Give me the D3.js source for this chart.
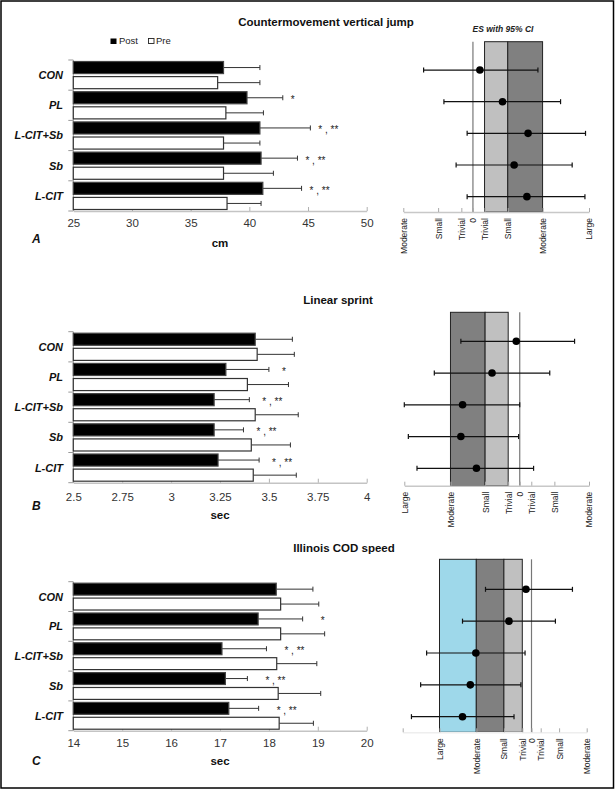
<!DOCTYPE html>
<html>
<head>
<meta charset="utf-8">
<script src="https://cdn.jsdelivr.net/npm/d3@7"></script>
<style>
  body { margin: 0; background: #fff; }
  text { font-family: "Liberation Sans", Arial, sans-serif; }
</style>
</head>
<body>
<div id="figure"></div>
<script>
// groups (same order in every panel)
var groups = ["CON", "PL", "L-CIT+Sb", "Sb", "L-CIT"];
var sigMarks = ["", "*", "* , **", "* , **", "* , **"];

// countermovement vertical jump (cm)
var cmjPost = [37.8, 39.8, 40.9, 41.0, 41.15];
var cmjPostSd = [3.1, 3.05, 4.3, 3.1, 3.3];
var cmjPre = [37.3, 38.0, 37.8, 37.8, 38.1];
var cmjPreSd = [3.6, 3.2, 3.1, 4.25, 2.9];
var cmjTicks = [25, 30, 35, 40, 45, 50];
var cmjEs = [0.12, 0.51, 0.95, 0.71, 0.93];
var cmjEsLo = [-0.85, -0.50, -0.10, -0.29, -0.10];
var cmjEsHi = [1.12, 1.51, 1.94, 1.71, 1.93];
var cmjEsTicks = [-1.2, -0.6, -0.2, 0, 0.2, 0.6, 1.2, 2.0];
var cmjEsLabels = ["Moderate", "Small", "Trivial", "0", "Trivial", "Small", "Moderate", "Large"];
var cmjEsBands = [0.2, 0.6, 1.2];

// linear sprint (sec)
var sprintPost = [3.43, 3.28, 3.22, 3.22, 3.24];
var sprintPostSd = [0.19, 0.22, 0.18, 0.15, 0.21];
var sprintPre = [3.44, 3.39, 3.43, 3.41, 3.42];
var sprintPreSd = [0.19, 0.21, 0.22, 0.20, 0.22];
var sprintTicks = [2.5, 2.75, 3, 3.25, 3.5, 3.75, 4];
var sprintEs = [-0.06, -0.48, -0.99, -1.02, -0.75];
var sprintEsLo = [-1.02, -1.48, -2.0, -1.93, -1.78];
var sprintEsHi = [0.95, 0.52, 0.0, -0.02, 0.24];
var sprintEsTicks = [-2.0, -1.2, -0.6, -0.2, 0, 0.2, 0.6, 1.2];
var sprintEsLabels = ["Large", "Moderate", "Small", "Trivial", "0", "Trivial", "Small", "Moderate"];
var sprintEsBands = [-1.2, -0.6, -0.2];

// illinois change-of-direction speed (sec)
var codPost = [18.15, 17.78, 17.04, 17.11, 17.18];
var codPostSd = [0.75, 0.91, 0.91, 0.45, 0.61];
var codPre = [18.24, 18.24, 18.16, 18.19, 18.21];
var codPreSd = [0.78, 0.90, 0.82, 0.87, 0.70];
var codTicks = [14, 15, 16, 17, 18, 19, 20];
var codEs = [-0.12, -0.49, -1.21, -1.33, -1.5];
var codEsLo = [-1.0, -1.5, -2.28, -2.41, -2.61];
var codEsHi = [0.89, 0.52, -0.14, -0.23, -0.38];
var codEsTicks = [-2.8, -2.0, -1.2, -0.6, -0.2, 0, 0.2, 0.6, 1.2];
var codEsLabels = ["", "Large", "Moderate", "Small", "Trivial", "0", "Trivial", "Small", "Moderate"];
var codEsBands = [-2.0, -1.2, -0.6, -0.2];

var svgWidth = 615;
var svgHeight = 791;

var svg = d3.select("#figure")
  .append("svg")
  .attr("width", svgWidth)
  .attr("height", svgHeight);

// outer frame
svg.append("rect")
  .attr("x", 1)
  .attr("y", 1)
  .attr("width", 612.5)
  .attr("height", 787)
  .attr("fill", "none")
  .attr("stroke", "#000")
  .attr("stroke-width", 1.5);

var barLeft = 73.3;
var barRight = 366.7;
var lightGrey = "#c0c0c0";
var darkGrey = "#808080";
var lightBlue = "#9ed8ea";

var panels = [
  {
    letter: "A", title: "Countermovement vertical jump", titleX: 326, titleY: 26, unit: "cm",
    post: cmjPost, postSd: cmjPostSd, pre: cmjPre, preSd: cmjPreSd, ticks: cmjTicks,
    es: cmjEs, esLo: cmjEsLo, esHi: cmjEsHi, esTicks: cmjEsTicks, esLabels: cmjEsLabels,
    esBands: cmjEsBands, bandColors: [lightGrey, darkGrey],
    top: 60, bottom: 211, tickY: 227, unitY: 247, letterY: 243, starOffset: 8,
    esTop: 41.7, esAxis: 212, esRows: [54.2, 212.5], esX: [403.3, 589], axisColor: "#c8c8c8"
  },
  {
    letter: "B", title: "Linear sprint", titleX: 338, titleY: 303.5, unit: "sec",
    post: sprintPost, postSd: sprintPostSd, pre: sprintPre, preSd: sprintPreSd, ticks: sprintTicks,
    es: sprintEs, esLo: sprintEsLo, esHi: sprintEsHi, esTicks: sprintEsTicks, esLabels: sprintEsLabels,
    esBands: sprintEsBands, bandColors: [darkGrey, lightGrey],
    top: 331.7, bottom: 482.7, tickY: 500.7, unitY: 518.5, letterY: 510, starOffset: 13,
    esTop: 312.3, esAxis: 485.7, esRows: [325.4, 484.2], esX: [404.3, 589], axisColor: "#c8c8c8"
  },
  {
    letter: "C", title: "Illinois COD speed", titleX: 344, titleY: 552, unit: "sec",
    post: codPost, postSd: codPostSd, pre: codPre, preSd: codPreSd, ticks: codTicks,
    es: codEs, esLo: codEsLo, esHi: codEsHi, esTicks: codEsTicks, esLabels: codEsLabels,
    esBands: codEsBands, bandColors: [lightBlue, darkGrey, lightGrey],
    top: 581.7, bottom: 730.7, tickY: 747, unitY: 765, letterY: 765, starOffset: 18,
    esTop: 559.3, esAxis: 732.3, esRows: [573.4, 732.6], esX: [402.7, 586.7], axisColor: "#eeeeee"
  }
];

// legend (top panel only)
var legend = svg.append("g").attr("transform", "translate(110.5, 38.5)");
legend.append("rect").attr("width", 6).attr("height", 5.5).attr("fill", "#000");
legend.append("text").attr("x", 8.5).attr("y", 5.8).style("font-size", "9.5px").attr("fill", "#222").text("Post");
legend.append("rect").attr("x", 38).attr("width", 5.5).attr("height", 5).attr("fill", "#fff")
  .attr("stroke", "#222").attr("stroke-width", 0.9);
legend.append("text").attr("x", 45.5).attr("y", 5.8).style("font-size", "9.5px").attr("fill", "#222").text("Pre");

// ES header
svg.append("text")
  .attr("x", 503)
  .attr("y", 32)
  .attr("text-anchor", "middle")
  .style("font-size", "8.5px")
  .style("font-weight", "bold")
  .style("font-style", "italic")
  .attr("fill", "#222")
  .text("ES with 95% CI");

panels.forEach(function(p) {
  var rows = groups.map(function(g, i) {
    return {
      group: g, sig: sigMarks[i],
      bars: [
        { key: "Post", value: p.post[i], sd: p.postSd[i] },
        { key: "Pre", value: p.pre[i], sd: p.preSd[i] }
      ],
      es: p.es[i], lo: p.esLo[i], hi: p.esHi[i]
    };
  });

  // ---------- bar chart ----------
  var x = d3.scaleLinear()
    .domain(d3.extent(p.ticks))
    .range([barLeft, barRight]);

  var y0 = d3.scaleBand()
    .domain(groups)
    .range([p.top, p.bottom])
    .paddingInner(0);

  var y1 = d3.scaleBand()
    .domain(["Post", "Pre"])
    .range([0, y0.bandwidth()])
    .paddingInner(0.2)
    .paddingOuter(0.1);

  svg.append("text")
    .attr("x", p.titleX)
    .attr("y", p.titleY)
    .attr("text-anchor", "middle")
    .style("font-size", "11.5px")
    .style("font-weight", "bold")
    .attr("fill", "#111")
    .text(p.title);

  // x axis with inward ticks
  var xAxis = svg.append("g")
    .attr("transform", `translate(0, ${p.bottom})`)
    .call(d3.axisBottom(x).tickValues(p.ticks).tickFormat(d => d).tickSizeInner(-4).tickSizeOuter(0));
  xAxis.select(".domain").attr("stroke", "#c4c4c4").attr("stroke-width", 1.5);
  xAxis.selectAll(".tick line").attr("stroke", "#b0b0b0");
  xAxis.selectAll(".tick text")
    .attr("y", p.tickY - p.bottom)
    .attr("dy", null)
    .style("font-size", "11.5px")
    .attr("fill", "#333");

  // y axis line with ticks between categories
  svg.append("line")
    .attr("x1", barLeft).attr("x2", barLeft)
    .attr("y1", p.top).attr("y2", p.bottom)
    .attr("stroke", "#999");
  svg.selectAll(null)
    .data(d3.range(groups.length + 1))
    .enter()
    .append("line")
    .attr("x1", barLeft - 5).attr("x2", barLeft)
    .attr("y1", d => p.top + d * y0.step())
    .attr("y2", d => p.top + d * y0.step())
    .attr("stroke", "#999");

  // category labels
  svg.selectAll(null)
    .data(groups)
    .enter()
    .append("text")
    .attr("x", 63)
    .attr("y", d => y0(d) + y0.bandwidth() / 2)
    .attr("dy", "0.36em")
    .attr("text-anchor", "end")
    .style("font-size", "11px")
    .style("font-weight", "bold")
    .style("font-style", "italic")
    .attr("fill", "#111")
    .text(d => d);

  var rowGroups = svg.selectAll(null)
    .data(rows)
    .enter()
    .append("g")
    .attr("transform", d => `translate(0, ${y0(d.group)})`);

  // error bars (positive side only)
  var err = rowGroups.selectAll(".err")
    .data(d => d.bars)
    .enter()
    .append("g");
  err.append("line")
    .attr("x1", d => x(d.value))
    .attr("x2", d => x(d.value + d.sd))
    .attr("y1", d => y1(d.key) + y1.bandwidth() / 2)
    .attr("y2", d => y1(d.key) + y1.bandwidth() / 2)
    .attr("stroke", "#333");
  err.append("line")
    .attr("x1", d => x(d.value + d.sd))
    .attr("x2", d => x(d.value + d.sd))
    .attr("y1", d => y1(d.key) + y1.bandwidth() / 2 - 2.5)
    .attr("y2", d => y1(d.key) + y1.bandwidth() / 2 + 2.5)
    .attr("stroke", "#333");

  // bars
  rowGroups.selectAll("rect")
    .data(d => d.bars)
    .enter()
    .append("rect")
    .attr("x", barLeft)
    .attr("y", d => y1(d.key))
    .attr("width", d => x(d.value) - barLeft)
    .attr("height", y1.bandwidth())
    .attr("fill", d => d.key === "Post" ? "#000" : "#fff")
    .attr("stroke", d => d.key === "Post" ? "#444" : "#333")
    .attr("stroke-width", 1.2);

  // significance marks
  rowGroups.append("text")
    .attr("x", d => x(d.bars[0].value + d.bars[0].sd) + p.starOffset)
    .attr("y", d => y1("Post") + y1.bandwidth() / 2 + 5.5)
    .style("font-size", "10px")
    .attr("fill", "#222")
    .attr("xml:space", "preserve")
    .text(d => d.sig);

  svg.append("text")
    .attr("x", 220)
    .attr("y", p.unitY)
    .attr("text-anchor", "middle")
    .style("font-size", "11.5px")
    .style("font-weight", "bold")
    .attr("fill", "#111")
    .text(p.unit);

  svg.append("text")
    .attr("x", 32)
    .attr("y", p.letterY)
    .style("font-size", "12px")
    .style("font-weight", "bold")
    .style("font-style", "italic")
    .attr("fill", "#111")
    .text(p.letter);

  // ---------- effect size plot ----------
  var ex = d3.scaleLinear()
    .domain(d3.extent(p.esTicks))
    .range(p.esX);

  var ey = d3.scaleBand()
    .domain(groups)
    .range(p.esRows);

  // shaded magnitude bands
  svg.selectAll(null)
    .data(d3.pairs(p.esBands))
    .enter()
    .append("rect")
    .attr("x", d => ex(d[0]))
    .attr("y", p.esTop)
    .attr("width", d => ex(d[1]) - ex(d[0]))
    .attr("height", p.esAxis - p.esTop)
    .attr("fill", (d, i) => p.bandColors[i])
    .attr("stroke", "#222")
    .attr("stroke-width", 1);

  // zero line
  svg.append("line")
    .attr("x1", ex(0)).attr("x2", ex(0))
    .attr("y1", p.esTop).attr("y2", p.esAxis)
    .attr("stroke", "#777")
    .attr("stroke-width", 1.2);

  var esAxis = svg.append("g")
    .attr("transform", `translate(0, ${p.esAxis})`)
    .call(d3.axisBottom(ex).tickValues(p.esTicks).tickFormat((d, i) => p.esLabels[i]).tickSizeInner(-4).tickSizeOuter(0));
  esAxis.select(".domain").attr("stroke", p.axisColor).attr("stroke-width", 1.5);
  esAxis.selectAll(".tick line").attr("stroke", "#aaa");
  esAxis.selectAll(".tick text")
    .attr("transform", "rotate(-90)")
    .attr("x", -6)
    .attr("y", 0)
    .attr("dy", "0.35em")
    .style("text-anchor", "end")
    .style("font-size", "8.5px")
    .attr("fill", "#222");

  // confidence intervals
  var ci = svg.selectAll(null)
    .data(rows)
    .enter()
    .append("g")
    .attr("transform", d => `translate(0, ${ey(d.group) + ey.bandwidth() / 2})`);
  ci.append("line")
    .attr("x1", d => ex(d.lo))
    .attr("x2", d => ex(d.hi))
    .attr("stroke", "#111")
    .attr("stroke-width", 1.2);
  ci.append("line")
    .attr("x1", d => ex(d.lo)).attr("x2", d => ex(d.lo))
    .attr("y1", -2.5).attr("y2", 2.5)
    .attr("stroke", "#111")
    .attr("stroke-width", 1.2);
  ci.append("line")
    .attr("x1", d => ex(d.hi)).attr("x2", d => ex(d.hi))
    .attr("y1", -2.5).attr("y2", 2.5)
    .attr("stroke", "#111")
    .attr("stroke-width", 1.2);
  ci.append("circle")
    .attr("cx", d => ex(d.es))
    .attr("r", 3.8)
    .attr("fill", "#000");
});
</script>
</body>
</html>
